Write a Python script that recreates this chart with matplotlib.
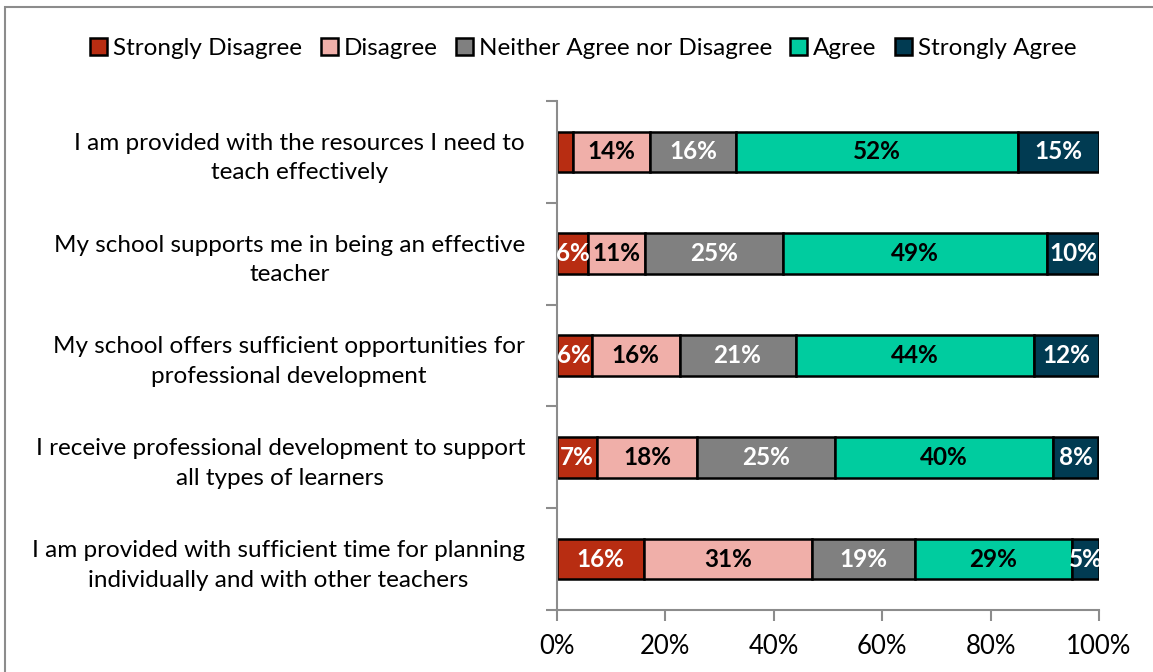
import matplotlib
matplotlib.use("Agg")
from matplotlib import pyplot as plt
from matplotlib.patches import Rectangle
import numpy as np

plt.rcParams['font.family'] = ['Lato', 'DejaVu Sans']

statements = [
    "I am provided with the resources I need to\nteach effectively",
    "My school supports me in being an effective\nteacher",
    "My school offers sufficient opportunities for\nprofessional development",
    "I receive professional development to support\nall types of learners",
    "I am provided with sufficient time for planning\nindividually and with other teachers",
]
responses = ["Strongly Disagree", "Disagree", "Neither Agree nor Disagree",
             "Agree", "Strongly Agree"]

strongly_disagree = [3.0, 5.7, 6.4, 7.4, 16.0]
disagree = [14.2, 10.6, 16.2, 18.4, 31.0]
neither = [15.8, 25.4, 21.4, 25.4, 19.0]
agree = [52.1, 48.7, 44.0, 40.3, 29.0]
strongly_agree = [14.9, 9.6, 12.0, 8.4, 5.0]

colors = ["#B82D12", "#F0AFA9", "#808080", "#00CC9F", "#013B52"]
text_colors = ["white", "black", "white", "black", "white"]

series = [strongly_disagree, disagree, neither, agree, strongly_agree]

fig = plt.figure(figsize=(11.53, 6.72), dpi=100)
ax = fig.add_axes([0.4831, 0.0923, 0.4701, 0.7574])

y = np.arange(len(statements))
left = np.zeros(len(statements))
for vals, col, tcol, name in zip(series, colors, text_colors, responses):
    vals = np.array(vals)
    ax.barh(y, vals, left=left, height=0.4, color=col, edgecolor="black",
            linewidth=1.8, label=name)
    for yi, (l, v) in enumerate(zip(left, vals)):
        if v >= 4:
            ax.text(l + v / 2, yi, "%.0f%%" % v, ha="center", va="center",
                    color=tcol, fontsize=17.5, fontweight="bold")
    left += vals

ax.set_xlim(0, 100)
ax.set_ylim(len(statements) - 0.5, -0.5)
ax.set_xticks(np.arange(0, 101, 20))
ax.set_xticklabels(["%d%%" % v for v in range(0, 101, 20)], fontsize=18.5)
ax.set_yticks(y)
ax.set_yticklabels(statements, fontsize=17.5, multialignment="center", linespacing=1.5)
ax.set_yticks(np.arange(-0.5, len(statements), 1), minor=True)

ax.tick_params(axis="y", which="major", length=0, pad=23)
ax.tick_params(axis="y", which="minor", length=8, width=1.5, color="#8c8c8c", direction="out")
ax.tick_params(axis="x", length=8, width=1.5, color="#8c8c8c", direction="out", pad=9)

for side in ["top", "right"]:
    ax.spines[side].set_visible(False)
for side in ["left", "bottom"]:
    ax.spines[side].set_color("#8c8c8c")
    ax.spines[side].set_linewidth(1.5)

handles, labels = ax.get_legend_handles_labels()
fig.legend(handles, labels, loc="center", bbox_to_anchor=(0.506, 0.928), ncol=5,
           frameon=False, fontsize=17.5, handlelength=0.7, handleheight=0.7,
           handletextpad=0.25, columnspacing=0.75)

# outer chart border, running off the right and bottom edges
fig.patches.append(Rectangle((5 / 1153, -0.02), 1.05, 1 - 7 / 672 + 0.02,
                             transform=fig.transFigure, fill=False,
                             edgecolor="#8c8c8c", linewidth=1.5))

fig.savefig("out.png", dpi=100)
